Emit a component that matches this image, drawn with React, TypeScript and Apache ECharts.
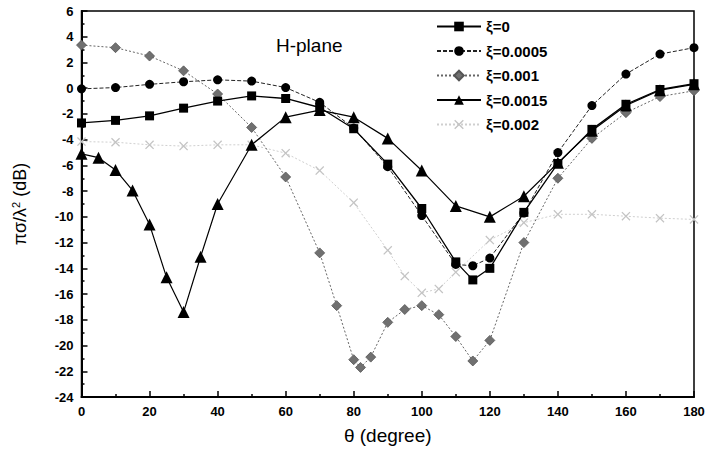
import React, { useEffect, useRef } from "react";
import * as echarts from "echarts";

const seriesNames = ["ξ=0", "ξ=0.0005", "ξ=0.001", "ξ=0.0015", "ξ=0.002"];

const theta0 = [0, 10, 20, 30, 40, 50, 60, 70, 80, 90, 100, 110, 115, 120, 130, 140, 150, 160, 170, 180];
const vals0 = [-2.7, -2.5, -2.15, -1.55, -1.0, -0.6, -0.8, -1.5, -3.15, -5.9, -9.35, -13.5, -14.9, -14.0, -9.65, -5.85, -3.2, -1.25, -0.1, 0.35];

const theta1 = [0, 10, 20, 30, 40, 50, 60, 70, 80, 90, 100, 110, 115, 120, 130, 140, 150, 160, 170, 180];
const vals1 = [-0.05, 0.05, 0.3, 0.5, 0.65, 0.55, 0.05, -1.1, -3.1, -6.1, -9.9, -13.7, -13.8, -13.2, -9.7, -5.0, -1.35, 1.1, 2.65, 3.15];

const theta2 = [0, 10, 20, 30, 40, 50, 60, 70, 75, 80, 82, 85, 90, 95, 100, 105, 110, 115, 120, 130, 140, 150, 160, 170, 180];
const vals2 = [3.35, 3.15, 2.5, 1.35, -0.45, -3.05, -6.9, -12.8, -16.9, -21.1, -21.7, -20.9, -18.2, -17.2, -16.9, -17.6, -19.3, -21.2, -19.6, -12.0, -7.0, -3.9, -1.9, -0.65, -0.2];

const theta3 = [0, 5, 10, 15, 20, 25, 30, 35, 40, 50, 60, 70, 80, 90, 100, 110, 120, 130, 140, 150, 160, 170, 180];
const vals3 = [-5.1, -5.4, -6.35, -7.95, -10.6, -14.7, -17.4, -13.1, -9.0, -4.4, -2.25, -1.7, -2.25, -3.9, -6.4, -9.15, -10.0, -8.4, -5.8, -3.3, -1.35, -0.15, 0.3];

const theta4 = [0, 10, 20, 30, 40, 50, 60, 70, 80, 90, 95, 100, 105, 110, 120, 130, 140, 150, 160, 170, 180];
const vals4 = [-4.15, -4.2, -4.4, -4.5, -4.4, -4.4, -5.05, -6.4, -8.9, -12.6, -14.6, -15.9, -15.6, -14.3, -11.8, -10.45, -9.8, -9.8, -9.95, -10.1, -10.2];

const xTicks = { min: 0, max: 180, interval: 20 };
const yTicks = { min: -24, max: 6, interval: 2 };

const crossPath =
  "path://M0,1 L1,0 L5,4 L9,0 L10,1 L6,5 L10,9 L9,10 L5,6 L1,10 L0,9 L4,5 Z";

const pair = (t: number[], v: number[]) => t.map((x, i) => [x, v[i]]);

export default function App() {
  const ref = useRef<HTMLDivElement>(null);
  useEffect(() => {
    if (!ref.current) return;
    const chart = echarts.init(ref.current, undefined, { renderer: "svg" });
    const font = "Liberation Sans, Arial, sans-serif";
    chart.setOption({
      animation: false,
      backgroundColor: "#fff",
      textStyle: { fontFamily: font },
      grid: {
        left: 81.5,
        right: 15,
        top: 11,
        bottom: 57,
        show: true,
        borderColor: "#000",
        borderWidth: 1.5,
      },
      legend: {
        orient: "vertical",
        left: 431,
        top: 14,
        itemWidth: 44,
        itemHeight: 12,
        itemGap: 9.5,
        textStyle: { fontSize: 15, fontWeight: "bold", color: "#000", fontFamily: font },
        data: seriesNames,
      },
      graphic: [
        {
          type: "text",
          left: 276,
          top: 36,
          style: { text: "H-plane", fontSize: 19, fill: "#000", fontFamily: font },
        },
      ],
      xAxis: {
        type: "value",
        ...xTicks,
        name: "θ (degree)",
        nameLocation: "middle",
        nameGap: 29,
        nameTextStyle: { fontSize: 19, color: "#000", fontFamily: font },
        axisLine: { onZero: false, lineStyle: { color: "#000", width: 2 } },
        axisTick: { inside: true, length: 6, lineStyle: { color: "#000", width: 1.5 } },
        minorTick: { show: true, splitNumber: 2, length: 3, lineStyle: { color: "#000", width: 1.5 } },
        axisLabel: { fontSize: 13, fontWeight: "bold", color: "#000", margin: 8, fontFamily: font },
        splitLine: { show: false },
      },
      yAxis: {
        type: "value",
        ...yTicks,
        name: "{a|πσ/λ}{s|2}{a| (dB)}",
        nameLocation: "middle",
        nameGap: 52,
        nameTextStyle: {
          fontSize: 18,
          color: "#000",
          fontFamily: font,
          rich: {
            a: { fontSize: 18, color: "#000", fontFamily: font },
            s: { fontSize: 11, color: "#000", fontFamily: font, verticalAlign: "top", padding: [0, 0, 8, 0] },
          },
        },
        axisLine: { onZero: false, lineStyle: { color: "#000", width: 2 } },
        axisTick: { inside: true, length: 6, lineStyle: { color: "#000", width: 1.5 } },
        minorTick: { show: true, splitNumber: 2, length: 3, lineStyle: { color: "#000", width: 1.5 } },
        axisLabel: { fontSize: 13, fontWeight: "bold", color: "#000", margin: 8, fontFamily: font },
        splitLine: { show: false },
      },
      series: [
        {
          name: seriesNames[0],
          type: "line",
          data: pair(theta0, vals0),
          symbol: "rect",
          symbolSize: 9,
          itemStyle: { color: "#000" },
          lineStyle: { color: "#000", width: 1.3 },
          z: 5,
        },
        {
          name: seriesNames[1],
          type: "line",
          data: pair(theta1, vals1),
          symbol: "circle",
          symbolSize: 9,
          itemStyle: { color: "#000" },
          lineStyle: { color: "#222", width: 1, type: [4, 2] },
          z: 4,
        },
        {
          name: seriesNames[2],
          type: "line",
          data: pair(theta2, vals2),
          symbol: "diamond",
          symbolSize: 10,
          itemStyle: { color: "#707070", borderColor: "#555", borderWidth: 0.8 },
          lineStyle: { color: "#666", width: 1, type: [2, 2] },
          z: 3,
        },
        {
          name: seriesNames[3],
          type: "line",
          data: pair(theta3, vals3),
          symbol: "triangle",
          symbolSize: 12,
          itemStyle: { color: "#000" },
          lineStyle: { color: "#000", width: 1.2 },
          z: 4,
        },
        {
          name: seriesNames[4],
          type: "line",
          data: pair(theta4, vals4),
          symbol: crossPath,
          symbolSize: 9,
          itemStyle: { color: "#c4c4c4" },
          lineStyle: { color: "#cfcfcf", width: 1, type: [2, 2] },
          z: 2,
        },
      ],
    });
    return () => chart.dispose();
  }, []);
  return (
    <div
      ref={ref}
      style={{ position: "absolute", left: 0, top: 0, width: 709, height: 454 }}
    />
  );
}
